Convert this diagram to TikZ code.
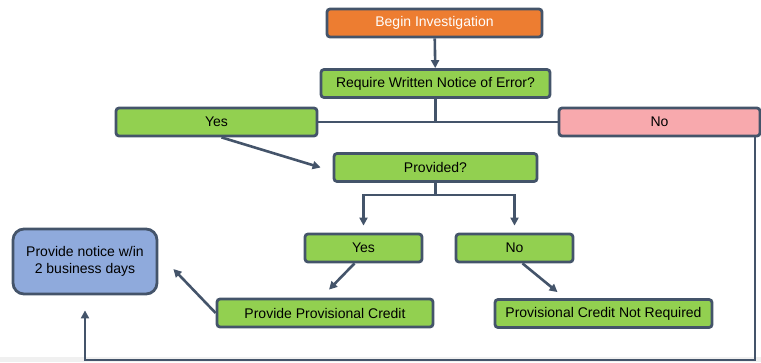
\documentclass[tikz,border=0pt]{standalone}
\usepackage{fontspec}
\setmainfont{Liberation Sans}
\usetikzlibrary{arrows.meta,calc}

\definecolor{slate}{HTML}{44546A}
\definecolor{startorange}{HTML}{ED7D31}
\definecolor{stepgreen}{HTML}{92D050}
\definecolor{nopink}{HTML}{F8A9AD}
\definecolor{noteblue}{HTML}{8FAADC}

\tikzset{
  box/.style={draw=slate,line width=2.8pt,rounded corners=3pt,inner sep=0pt,
    minimum height=28pt,align=center,font=\fontsize{14}{17}\selectfont},
  greenbox/.style={box,fill=stepgreen},
  link/.style={draw=slate,line width=2.6pt},
}

\begin{document}
\begin{tikzpicture}[x=1pt,y=-1pt,>={Triangle[length=8pt,width=8pt]}]
\useasboundingbox (0,0) rectangle (761,362);
\fill[gray!12] (0,357) rectangle (761,362);

\node[box,fill=startorange,text=white,minimum width=215pt] (begin) at (434.5,23) {Begin Investigation};
\node[greenbox,minimum width=229pt] (notice) at (435.5,83.5) {Require Written Notice of Error?};
\node[greenbox,minimum width=201pt] (yesA) at (216.5,122) {Yes};
\node[box,fill=nopink,minimum width=201pt] (noA) at (659.5,122) {No};
\node[greenbox,minimum width=203pt] (provided) at (435.5,167.5) {Provided?};
\node[greenbox,minimum width=117pt] (yesB) at (363.5,248) {Yes};
\node[greenbox,minimum width=117pt] (noB) at (514.5,248) {No};
\node[greenbox,minimum width=216pt] (credit) at (325,313) {Provide Provisional Credit};
\node[greenbox,minimum width=217pt] (nocredit) at (603.5,313.5) {Provisional Credit Not Required};
\node[box,fill=noteblue,rounded corners=11pt,minimum width=144pt,minimum height=65pt] (inform) at (85,261.5) {Provide notice w/in\\2 business days};

% top of the tree
\draw[link,->] (begin) -- (notice);
\draw[link] (yesA) -- (noA);
\draw[link] (notice) -- (notice |- yesA);
\draw[link,->] ([xshift=5pt]yesA.south) -- ([xshift=-12pt]provided.west);

% provided?
\draw[link,->,shorten >=7pt] (provided) -- ++(0,27.5) -| (yesB);
\draw[link,->,shorten >=7pt] (provided) -- ++(0,27.5) -| (noB);
\draw[link,->] ([xshift=-9pt]yesB.south) -- ([xshift=4pt,yshift=8pt]credit.north);
\draw[link,->] ([xshift=8pt]noB.south) -- ([xshift=-46pt,yshift=6pt]nocredit.north);
\draw[link,->] (credit.west) -- ([xshift=15pt,yshift=-7.5pt]inform.east);

% no written notice needed
\coordinate (turn) at (755,360);
\draw[link,->] (noA.south -| turn) -- (turn) -| ([yshift=-15pt]inform.south);
\end{tikzpicture}
\end{document}
